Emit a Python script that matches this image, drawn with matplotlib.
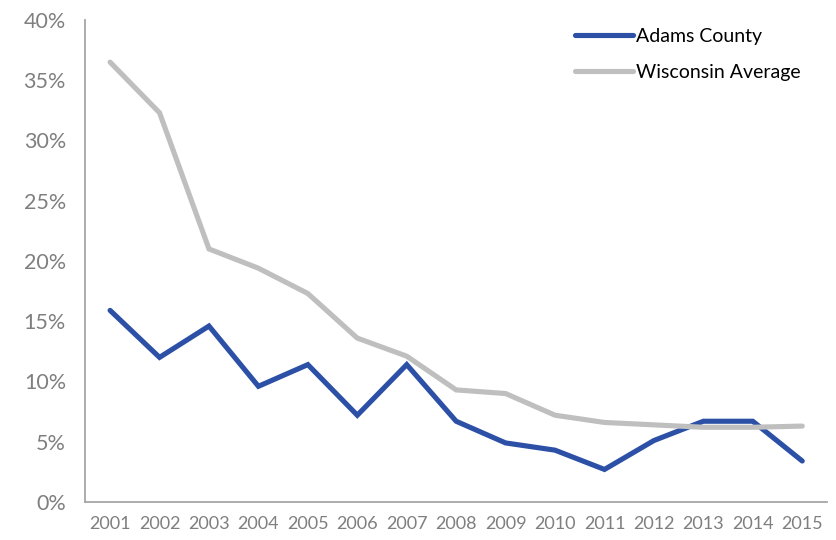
import matplotlib
import matplotlib.pyplot as plt
from matplotlib.ticker import FuncFormatter

matplotlib.rcParams.update({"font.family": ["Lato", "DejaVu Sans"]})

years = list(range(2001, 2016))
adams = [15.9, 12.0, 14.6, 9.6, 11.4, 7.2, 11.4, 6.7, 4.9, 4.3, 2.7, 5.1, 6.7, 6.7, 3.4]
wisconsin = [36.5, 32.3, 21.0, 19.4, 17.3, 13.6, 12.1, 9.3, 9.0, 7.2, 6.6, 6.4, 6.2, 6.2, 6.3]

fig = plt.figure(figsize=(8.37, 5.4), dpi=100)
ax = fig.add_axes([0.102, 0.0704, 0.886, 0.8926])

ax.plot(years, adams, color="#2b50a6", lw=3.7, solid_joinstyle="miter",
        solid_capstyle="round", label="Adams County")
ax.plot(years, wisconsin, color="#bfbfbf", lw=3.7, solid_joinstyle="miter",
        solid_capstyle="round", label="Wisconsin Average")

ax.set_xlim(2000.5, 2015.5)
ax.set_ylim(0, 40)
ax.set_xticks(years)
ax.set_yticks(range(0, 41, 5))
ax.yaxis.set_major_formatter(FuncFormatter(lambda v, p: "%d%%" % v))

for side in ["top", "right"]:
    ax.spines[side].set_visible(False)
for side in ["left", "bottom"]:
    ax.spines[side].set_color("#a6a6a6")
    ax.spines[side].set_linewidth(1.3)

ax.tick_params(axis="y", length=0, pad=14, labelsize=15.5, labelcolor="#7f7f7f")
ax.tick_params(axis="x", length=0, pad=10, labelsize=13, labelcolor="#7f7f7f")

ax.legend(loc="upper right", bbox_to_anchor=(0.975, 1.0), frameon=False,
          fontsize=14, handlelength=3.0, handletextpad=0.15, labelspacing=1.0,
          borderaxespad=0, labelcolor="#000000")

fig.savefig("out.png", dpi=100)
